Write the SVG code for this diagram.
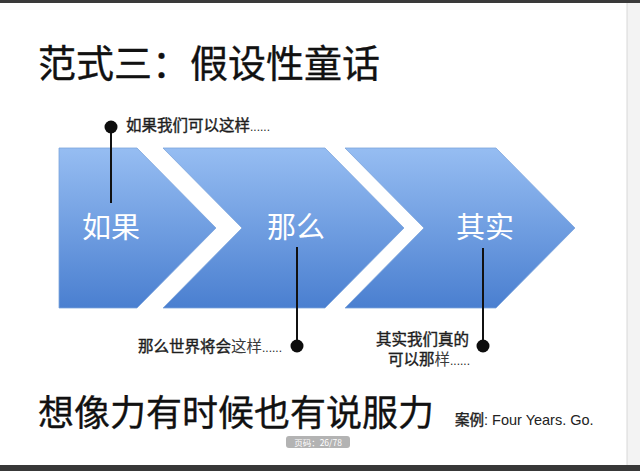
<svg xmlns="http://www.w3.org/2000/svg" width="640" height="471" viewBox="0 0 640 471">
  <defs>
    <linearGradient id="blue" x1="0" y1="0" x2="0" y2="1">
      <stop offset="0" stop-color="#96bdf2"/>
      <stop offset="1" stop-color="#4a7fd0"/>
    </linearGradient>
    <style>
      .chev { fill: url(#blue); stroke: #7ca4dc; stroke-width: 0.8; }
      .ctext { font-family: "Noto Sans CJK SC", sans-serif; font-size: 29px; fill: #ffffff; text-anchor: middle; }
      .lbl { font-family: "Liberation Sans", "Noto Sans CJK SC", sans-serif; font-size: 15.5px; fill: #1e1e1e; stroke: #1e1e1e; stroke-width: 0.4; }
      .lt { stroke: none; fill: #3a3a3a; }
      .dots { font-size: 12px; stroke: none; }
      .lead { stroke: #111111; stroke-width: 2; fill: none; }
      .dot { fill: #0d0d0d; }
      .big { font-family: "Noto Sans CJK SC", sans-serif; fill: #111111; stroke: #111111; stroke-width: 0.35; }
    </style>
  </defs>
  <rect x="0" y="0" width="640" height="471" fill="#ffffff"/>
  <rect x="627" y="0" width="13" height="471" fill="#f3f3f3"/>
  <line x1="627" y1="0" x2="627" y2="471" stroke="#d8d8d8" stroke-width="1"/>
  <rect x="0" y="0" width="640" height="3" fill="#3a3a3a"/>
  <rect x="0" y="465" width="640" height="6" fill="#383838"/>

  <text class="big" x="38" y="77" font-size="38">范式三：假设性童话</text>

  <g id="node-ruguo">
    <path class="chev" d="M59,148 L137,148 L216,228 L137,308 L59,308 Z"/>
    <text class="ctext" x="111" y="238">如果</text>
  </g>
  <g id="node-name">
    <path class="chev" d="M163,148 L325,148 L404,228 L325,308 L163,308 L242,228 Z"/>
    <text class="ctext" x="296" y="238">那么</text>
  </g>
  <g id="node-qishi">
    <path class="chev" d="M345,148 L496,148 L575,228 L496,308 L345,308 L424,228 Z"/>
    <text class="ctext" x="485" y="238">其实</text>
  </g>

  <g id="connectors">
    <line class="lead" x1="111" y1="127" x2="111" y2="203"/>
    <circle class="dot" cx="111" cy="127" r="6.5"/>
    <line class="lead" x1="297" y1="247" x2="297" y2="346"/>
    <circle class="dot" cx="297" cy="346" r="6.5"/>
    <line class="lead" x1="483" y1="248" x2="483" y2="346"/>
    <circle class="dot" cx="483" cy="346" r="6.5"/>
  </g>

  <g id="label-1">
    <text class="lbl" x="126" y="131">如果我们可以这样<tspan class="dots">......</tspan></text>
  </g>
  <g id="label-2">
    <text class="lbl" x="282" y="352" text-anchor="end">那么世界将会<tspan class="lt">这样</tspan><tspan class="dots">......</tspan></text>
  </g>
  <g id="label-3">
    <text class="lbl" x="469" y="345" text-anchor="end">其实我们真的</text>
    <text class="lbl" x="470" y="364.5" text-anchor="end">可以那<tspan class="lt">样</tspan><tspan class="dots">......</tspan></text>
  </g>

  <text class="big" x="38" y="426" font-size="36">想像力有时候也有说服力</text>
  <text x="455" y="425" font-family="Liberation Sans, Noto Sans CJK SC, sans-serif" font-size="14.5" fill="#222222"><tspan font-family="Noto Sans CJK SC, sans-serif" stroke="#222222" stroke-width="0.4">案例</tspan>: Four Years. Go.</text>

  <g id="page-badge">
    <rect x="286" y="436" width="64" height="12" rx="3" fill="#b3b3b3"/>
    <text x="318" y="445.5" font-family="Noto Sans CJK SC, sans-serif" font-size="8.5" fill="#ffffff" text-anchor="middle">页码：26/78</text>
  </g>
</svg>
